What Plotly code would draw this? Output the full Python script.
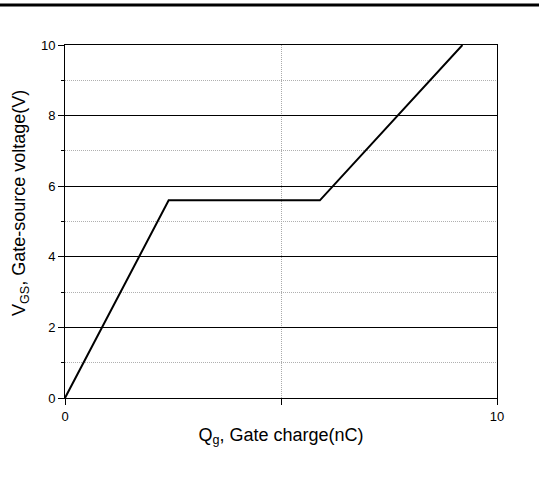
import plotly.graph_objects as go

# Data
qg_nC = [0.0, 2.4, 5.9, 9.2]
vgs_V = [0.0, 5.6, 5.6, 10.0]

x_tickvals = [0, 5, 10]
x_ticktext = ["0", "", "10"]
y_tickvals = [0, 2, 4, 6, 8, 10]
y_ticktext = ["0", "2", "4", "6", "8", "10"]

W, H = 539, 482
L, R, T, B = 65, 42, 45, 84
pw, ph = W - L - R, H - T - B

fig = go.Figure()
fig.add_trace(go.Scatter(x=qg_nC, y=vgs_V, mode="lines",
                         line=dict(color="black", width=2), showlegend=False))

font = "Liberation Sans, Arial, sans-serif"
fig.update_layout(
    width=W, height=H,
    margin=dict(l=L, r=R, t=T, b=B, autoexpand=False),
    paper_bgcolor="white", plot_bgcolor="white",
    font=dict(family=font, color="black", size=13),
    xaxis=dict(
        range=[0, 10], tickvals=x_tickvals, ticktext=x_ticktext,
        ticks="outside", ticklen=6, tickwidth=1, tickcolor="black",
        showline=True, linecolor="black", linewidth=1, mirror=True,
        showgrid=True, gridcolor="#aaaaaa", griddash="1px,1px", gridwidth=1,
        zeroline=False, tickfont=dict(size=13),
        title=dict(text="Q<sub>g</sub>, Gate charge(nC)", font=dict(size=18), standoff=5),
        automargin=False,
    ),
    yaxis=dict(
        range=[0, 10], tickvals=y_tickvals, ticktext=y_ticktext,
        ticks="outside", ticklen=6, tickwidth=1, tickcolor="black",
        showline=True, linecolor="black", linewidth=1, mirror=True,
        showgrid=True, gridcolor="black", gridwidth=1,
        zeroline=False, tickfont=dict(size=13),
        minor=dict(dtick=1, tick0=0, ticks="outside", ticklen=3, tickcolor="black",
                   showgrid=True, gridcolor="#b0b0b0", griddash="1px,1px", gridwidth=1),
        automargin=False,
    ),
    annotations=[dict(text="V<sub>GS</sub>, Gate-source voltage(V)", textangle=-90,
                      xref="paper", yref="paper", x=(20 - L) / pw, y=(H - B - 203) / ph,
                      xanchor="center", yanchor="middle", showarrow=False,
                      font=dict(size=18))],
    shapes=[dict(type="line", xref="paper", yref="paper",
                 x0=-L / pw, x1=(W - L) / pw,
                 y0=(H - B - 5) / ph, y1=(H - B - 5) / ph,
                 line=dict(color="black", width=3))],
)

fig.write_html("out.html", config={"displayModeBar": False},
               post_script="document.body.style.margin='0';document.body.style.overflow='hidden';")
